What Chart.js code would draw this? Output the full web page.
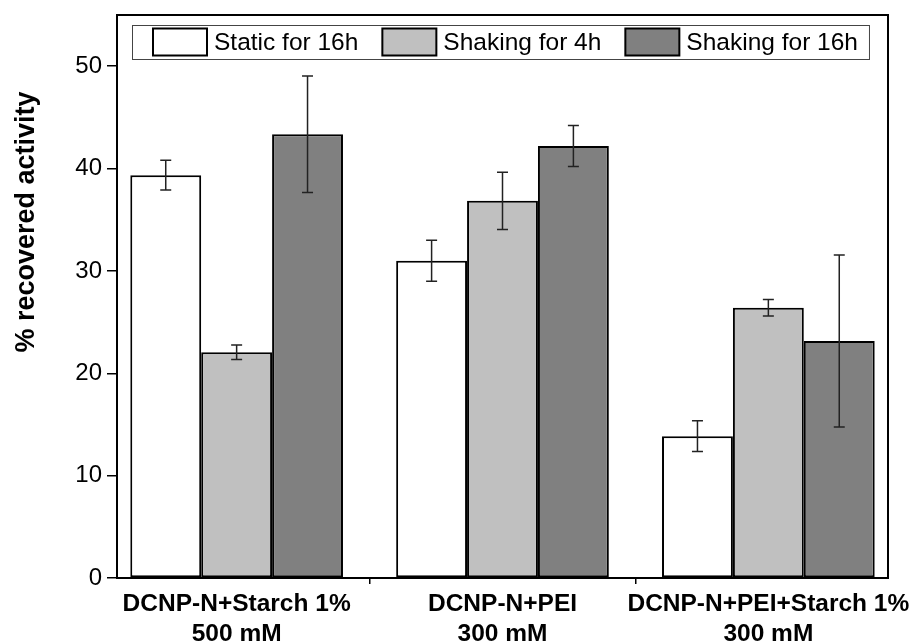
<!DOCTYPE html>
<html>
<head>
<meta charset="utf-8">
<script src="https://cdn.jsdelivr.net/npm/chart.js@4.4.0/dist/chart.umd.min.js"></script>
<style>
  html, body { margin: 0; padding: 0; background: #fff; }
  #wrap { width: 915px; height: 643px; }
</style>
</head>
<body>
<div id="wrap"><canvas id="chart" width="915" height="643"></canvas></div>
<script>
const groups = [["DCNP-N+Starch 1%", "500 mM"], ["DCNP-N+PEI", "300 mM"], ["DCNP-N+PEI+Starch 1%", "300 mM"]];
const seriesNames = ["Static for 16h", "Shaking for 4h", "Shaking for 16h"];
const staticMean = [39.35, 31.0, 13.85];
const staticErr = [1.45, 2.0, 1.5];
const shake4Mean = [22.05, 36.85, 26.4];
const shake4Err = [0.7, 2.8, 0.8];
const shake16Mean = [43.35, 42.2, 23.15];
const shake16Err = [5.7, 2.0, 8.4];
const yTicks = [0, 10, 20, 30, 40, 50];
const groupPos = [1, 2, 3];
const gapPos = [1.5, 2.5];

const FONT = "'Liberation Sans', Arial, Helvetica, sans-serif";
const fills = ["#ffffff", "#c0c0c0", "#808080"];
const errs = [staticErr, shake4Err, shake16Err];

function toPoints(vals) {
  return groupPos.map((x, i) => ({ x: x, y: vals[i] }));
}

const datasets = [staticMean, shake4Mean, shake16Mean].map((vals, i) => ({
  label: seriesNames[i],
  data: toPoints(vals),
  backgroundColor: fills[i],
  borderColor: "#000",
  borderWidth: 2,
  borderSkipped: false,
  categoryPercentage: 0.8,
  barPercentage: 1.0
}));

// error bars, frame, boxed legend and the y title
const extras = {
  id: "extras",
  afterDatasetsDraw(chart) {
    const ctx = chart.ctx;
    const y = chart.scales.y;
    ctx.save();
    ctx.strokeStyle = "#222";
    ctx.lineWidth = 1.5;
    chart.data.datasets.forEach((ds, i) => {
      chart.getDatasetMeta(i).data.forEach((bar, j) => {
        const v = ds.data[j].y, e = errs[i][j];
        const top = y.getPixelForValue(v + e);
        const bot = y.getPixelForValue(v - e);
        ctx.beginPath();
        ctx.moveTo(bar.x, top); ctx.lineTo(bar.x, bot);
        ctx.moveTo(bar.x - 5.5, top); ctx.lineTo(bar.x + 5.5, top);
        ctx.moveTo(bar.x - 5.5, bot); ctx.lineTo(bar.x + 5.5, bot);
        ctx.stroke();
      });
    });
    ctx.restore();
  },
  afterDraw(chart) {
    const ctx = chart.ctx;
    const a = chart.chartArea;
    ctx.save();
    ctx.strokeStyle = "#000";
    ctx.lineWidth = 2;
    ctx.strokeRect(a.left, a.top, a.right - a.left, a.bottom - a.top);

    // legend
    ctx.font = "24.5px " + FONT;
    const sw = 54, sh = 27, padL = 21, padR = 11, gapT = 7, gapI = 24;
    let w = padL + padR;
    const tw = seriesNames.map(s => ctx.measureText(s).width);
    tw.forEach((t, i) => { w += sw + gapT + t + (i ? gapI : 0); });
    const lx = a.left + 15, ly = a.top + 10, lh = 34;
    ctx.lineWidth = 1;
    ctx.strokeStyle = "#444";
    ctx.fillStyle = "#fff";
    ctx.fillRect(lx, ly, w, lh);
    ctx.strokeRect(lx + 0.5, ly + 0.5, w, lh);
    let x = lx + padL;
    ctx.textBaseline = "middle";
    ctx.textAlign = "left";
    seriesNames.forEach((s, i) => {
      ctx.fillStyle = fills[i];
      ctx.fillRect(x, ly + (lh - sh) / 2, sw, sh);
      ctx.strokeStyle = "#000";
      ctx.lineWidth = 2;
      ctx.strokeRect(x, ly + (lh - sh) / 2, sw, sh);
      ctx.fillStyle = "#000";
      ctx.fillText(s, x + sw + gapT, ly + lh / 2 + 1);
      x += sw + gapT + tw[i] + gapI;
    });

    // y axis title
    ctx.translate(27, a.top + 207);
    ctx.rotate(-Math.PI / 2);
    ctx.font = "bold 27px " + FONT;
    ctx.textAlign = "center";
    ctx.fillStyle = "#000";
    ctx.fillText("% recovered activity", 0, 0);
    ctx.restore();
  }
};

new Chart(document.getElementById("chart"), {
  type: "bar",
  data: { datasets: datasets },
  options: {
    responsive: false,
    animation: false,
    layout: { padding: { top: 15, right: 27, left: 0, bottom: 0 } },
    plugins: { legend: { display: false }, tooltip: { enabled: false } },
    scales: {
      x: {
        type: "linear",
        position: "bottom",
        weight: 1,
        offset: false,
        bounds: "data",
        min: 0.55,
        max: 3.45,
        afterBuildTicks: s => { s.ticks = groupPos.map(v => ({ value: v })); },
        afterFit: s => { s.height = 59; s.paddingLeft = 0; s.paddingRight = 0; },
        grid: { display: false, drawTicks: false, offset: false },
        border: { display: false },
        ticks: {
          autoSkip: false,
          maxRotation: 0,
          padding: 6,
          color: "#000",
          font: { family: FONT, size: 24.5, weight: "bold", lineHeight: 1.2 },
          callback: (v, i) => groups[i]
        }
      },
      x2: {
        type: "linear",
        position: "bottom",
        weight: 0,
        offset: false,
        bounds: "data",
        min: 0.55,
        max: 3.45,
        afterBuildTicks: s => { s.ticks = gapPos.map(v => ({ value: v })); },
        afterFit: s => { s.height = 6; s.paddingLeft = 0; s.paddingRight = 0; },
        grid: { drawOnChartArea: false, drawTicks: true, tickLength: 6, color: "#000", lineWidth: 1.5, offset: false },
        border: { display: true, color: "#000", width: 2 },
        ticks: { display: false }
      },
      y: {
        min: 0,
        max: 55,
        afterBuildTicks: s => { s.ticks = yTicks.map(v => ({ value: v })); },
        afterFit: s => { s.width = 117; s.paddingTop = 0; s.paddingBottom = 0; },
        grid: { drawOnChartArea: false, tickLength: 10, color: "#000", lineWidth: 1.5 },
        border: { color: "#000", width: 2 },
        ticks: { color: "#000", padding: 5, font: { family: FONT, size: 24 } }
      }
    }
  },
  plugins: [extras]
});
</script>
</body>
</html>
